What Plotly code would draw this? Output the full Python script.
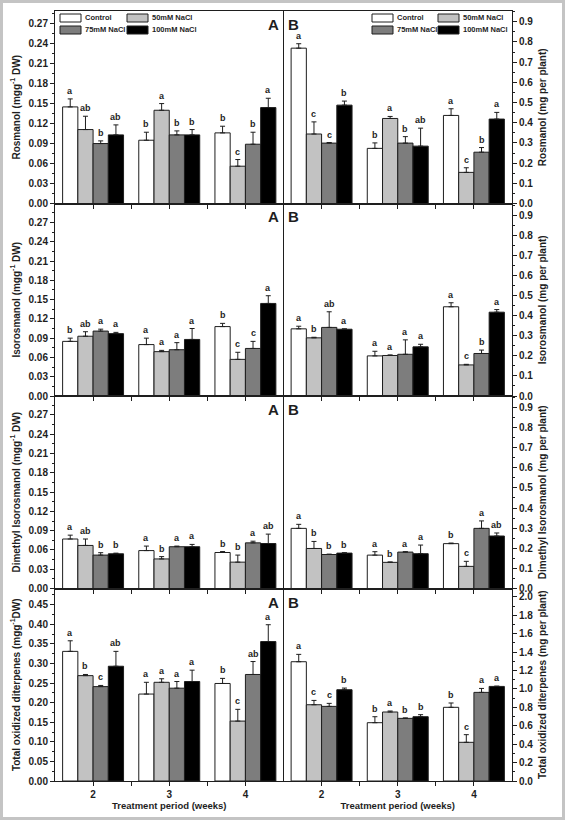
import plotly.graph_objects as go
from plotly.subplots import make_subplots

# ---------------- data ----------------
weeks = ["2", "3", "4"]
treatments = ["Control", "50mM NaCl", "75mM NaCl", "100mM NaCl"]

# each list: [Control, 50mM, 75mM, 100mM] x [week2, week3, week4]
rosmanol_dw = [[0.145, 0.095, 0.106], [0.111, 0.140, 0.056], [0.090, 0.103, 0.089], [0.103, 0.103, 0.144]]
rosmanol_dw_err = [[0.012, 0.012, 0.010], [0.020, 0.010, 0.010], [0.004, 0.006, 0.018], [0.015, 0.008, 0.014]]
rosmanol_dw_sig = [["a", "b", "b"], ["ab", "a", "c"], ["b", "b", "b"], ["ab", "b", "a"]]

rosmanol_pl = [[0.769, 0.273, 0.436], [0.344, 0.421, 0.154], [0.299, 0.299, 0.254], [0.487, 0.284, 0.418]]
rosmanol_pl_err = [[0.022, 0.027, 0.033], [0.060, 0.010, 0.023], [0.003, 0.032, 0.023], [0.020, 0.089, 0.033]]
rosmanol_pl_sig = [["a", "b", "a"], ["c", "a", "c"], ["c", "b", "b"], ["b", "ab", "a"]]

isoros_dw = [[0.085, 0.080, 0.108], [0.093, 0.069, 0.057], [0.101, 0.072, 0.074], [0.097, 0.088, 0.144]]
isoros_dw_err = [[0.005, 0.010, 0.005], [0.007, 0.002, 0.011], [0.003, 0.011, 0.011], [0.002, 0.017, 0.012]]
isoros_dw_sig = [["b", "a", "b"], ["ab", "a", "c"], ["a", "a", "c"], ["a", "a", "a"]]

isoros_pl = [[0.335, 0.200, 0.445], [0.290, 0.202, 0.155], [0.342, 0.208, 0.212], [0.333, 0.245, 0.418]]
isoros_pl_err = [[0.013, 0.023, 0.020], [0.003, 0.003, 0.003], [0.078, 0.072, 0.017], [0.002, 0.013, 0.013]]
isoros_pl_sig = [["a", "a", "a"], ["b", "a", "c"], ["ab", "a", "b"], ["a", "a", "a"]]

dimeth_dw = [[0.077, 0.059, 0.056], [0.067, 0.046, 0.041], [0.052, 0.065, 0.071], [0.054, 0.065, 0.070]]
dimeth_dw_err = [[0.006, 0.007, 0.0015], [0.010, 0.0036, 0.011], [0.0037, 0.001, 0.0026], [0.001, 0.0036, 0.0146]]
dimeth_dw_sig = [["a", "a", "b"], ["ab", "b", "b"], ["b", "a", "a"], ["b", "a", "ab"]]

dimeth_pl = [[0.299, 0.166, 0.223], [0.199, 0.130, 0.110], [0.169, 0.181, 0.299], [0.176, 0.173, 0.261]]
dimeth_pl_err = [[0.020, 0.017, 0.003], [0.035, 0.002, 0.025], [0.002, 0.002, 0.037], [0.002, 0.043, 0.015]]
dimeth_pl_sig = [["a", "a", "b"], ["b", "b", "c"], ["b", "a", "a"], ["b", "a", "ab"]]

total_dw = [[0.331, 0.222, 0.249], [0.269, 0.252, 0.153], [0.241, 0.237, 0.272], [0.293, 0.254, 0.356]]
total_dw_err = [[0.027, 0.030, 0.013], [0.003, 0.009, 0.030], [0.003, 0.017, 0.033], [0.038, 0.029, 0.043]]
total_dw_sig = [["a", "a", "b"], ["b", "a", "c"], ["c", "a", "ab"], ["ab", "a", "a"]]

total_pl = [[1.295, 0.633, 0.800], [0.828, 0.749, 0.420], [0.810, 0.680, 0.962], [0.991, 0.698, 1.027]]
total_pl_err = [[0.080, 0.065, 0.047], [0.047, 0.011, 0.083], [0.033, 0.005, 0.043], [0.018, 0.022, 0.003]]
total_pl_sig = [["a", "b", "b"], ["c", "a", "c"], ["c", "b", "a"], ["b", "b", "a"]]

left_titles = ["Rosmanol (mgg<sup>-1</sup> DW)", "Isorosmanol (mgg<sup>-1</sup> DW)",
               "Dimethyl Isorosmanol (mgg<sup>-1</sup> DW)", "Total oxidized diterpenes (mgg<sup>-1</sup>DW)"]
right_titles = ["Rosmanol (mg per plant)", "Isorosmanol (mg per plant)",
                "Dimethyl Isorosmanol (mg per plant)", "Total oxidized diterpenes (mg per plant)"]

# ---------------- styling ----------------
FILLS = ["#ffffff", "#c2c2c2", "#7d7d7d", "#000000"]
INK = "#1e1e1e"
FONT = "Liberation Sans, Arial, sans-serif"
W, H = 565, 820
ML, MR, MT, MB = 55, 53, 11, 39
PW, PH = W - ML - MR, H - MT - MB


def px2x(px):
    return (px - ML) / PW


def px2y(py):
    return (H - MB - py) / PH


fig = make_subplots(rows=4, cols=2, horizontal_spacing=0, vertical_spacing=0)

panels = [
    (1, 1, rosmanol_dw, rosmanol_dw_err, rosmanol_dw_sig, 0.289, 0.03, ".2f", left_titles[0]),
    (1, 2, rosmanol_pl, rosmanol_pl_err, rosmanol_pl_sig, 0.953, 0.1, ".1f", right_titles[0]),
    (2, 1, isoros_dw, isoros_dw_err, isoros_dw_sig, 0.2995, 0.03, ".2f", left_titles[1]),
    (2, 2, isoros_pl, isoros_pl_err, isoros_pl_sig, 0.960, 0.1, ".1f", right_titles[1]),
    (3, 1, dimeth_dw, dimeth_dw_err, dimeth_dw_sig, 0.2995, 0.03, ".2f", left_titles[2]),
    (3, 2, dimeth_pl, dimeth_pl_err, dimeth_pl_sig, 0.957, 0.1, ".1f", right_titles[2]),
    (4, 1, total_dw, total_dw_err, total_dw_sig, 0.4915, 0.05, ".2f", left_titles[3]),
    (4, 2, total_pl, total_pl_err, total_pl_sig, 2.09, 0.2, ".1f", right_titles[3]),
]

xs = list(range(len(weeks)))
offsets = [-0.3, -0.1, 0.1, 0.3]
tickfont = dict(family=FONT, size=10, color=INK, weight="bold")

for (r, c, vals, errs, sigs, ytop, dt, fmt, ytitle) in panels:
    for i, name in enumerate(treatments):
        fig.add_trace(go.Bar(
            x=xs, y=vals[i], name=name, offsetgroup=str(i), showlegend=False,
            marker=dict(color=FILLS[i], line=dict(color=INK, width=1)),
            error_y=dict(type="data", symmetric=False, array=errs[i], arrayminus=[0] * len(xs),
                         color=INK, thickness=1, width=2.5),
        ), row=r, col=c)
        for k in xs:
            fig.add_annotation(x=k + offsets[i], y=vals[i][k] + errs[i][k], text=sigs[i][k],
                               showarrow=False, yanchor="bottom", yshift=1,
                               font=dict(family=FONT, size=9, color=INK, weight="bold"),
                               row=r, col=c)
    fig.update_yaxes(range=[0, ytop], tick0=0, dtick=dt, tickformat=fmt,
                     side="left" if c == 1 else "right",
                     ticks="outside", ticklen=4, tickwidth=1, tickcolor=INK,
                     minor=dict(ticks="outside", ticklen=2, dtick=dt / 2, tickcolor=INK),
                     showline=True, linecolor=INK, linewidth=1, mirror=(c == 2),
                     showgrid=False, zeroline=False, tickfont=tickfont,
                     title=dict(text=ytitle, standoff=6,
                                font=dict(family=FONT, size=10, color=INK, weight="bold")),
                     row=r, col=c)
    fig.update_xaxes(range=[-0.5, 2.5], tickmode="array",
                     tickvals=[0, 0.5, 1, 1.5, 2],
                     ticktext=[weeks[0], "", weeks[1], "", weeks[2]] if r == 4 else [""] * 5,
                     ticks="outside", ticklen=4, tickwidth=1, tickcolor=INK,
                     showline=True, linecolor=INK, linewidth=1, mirror=True,
                     showgrid=False, zeroline=False, tickfont=tickfont,
                     row=r, col=c)

for c in (1, 2):
    fig.update_xaxes(title=dict(text="Treatment period (weeks)", standoff=2,
                                font=dict(family=FONT, size=9.5, color=INK, weight="bold")),
                     row=4, col=c)

# panel letters A / B
row_tops = [MT + k * PH / 4 for k in range(4)]
for top in row_tops:
    fig.add_annotation(xref="paper", yref="paper", x=px2x(281), y=px2y(top + 3),
                       xanchor="right", yanchor="top", text="A", showarrow=False,
                       font=dict(family=FONT, size=15, color=INK, weight="bold"))
    fig.add_annotation(xref="paper", yref="paper", x=px2x(286), y=px2y(top + 3),
                       xanchor="left", yanchor="top", text="B", showarrow=False,
                       font=dict(family=FONT, size=15, color=INK, weight="bold"))

# legends (drawn as swatches + text, two per top row panel)
shapes = []
legend_anchor = [(60, 127), (372, 438)]
for (xa, xb) in legend_anchor:
    slots = [(xa, 14), (xb, 14), (xa, 26), (xb, 26)]
    for i, name in enumerate(treatments):
        sx, sy = slots[i]
        shapes.append(dict(type="rect", xref="paper", yref="paper",
                           x0=px2x(sx), x1=px2x(sx + 21), y0=px2y(sy), y1=px2y(sy + 8),
                           fillcolor=FILLS[i], line=dict(color=INK, width=1)))
        fig.add_annotation(xref="paper", yref="paper", x=px2x(sx + 22.5), y=px2y(sy + 4),
                           xanchor="left", yanchor="middle", text=name, showarrow=False,
                           font=dict(family=FONT, size=7.5, color=INK, weight="bold"))

# outer frame
shapes.append(dict(type="rect", xref="paper", yref="paper",
                   x0=px2x(1.5), x1=px2x(W - 1.5), y0=px2y(H - 1.5), y1=px2y(1.5),
                   line=dict(color="#c4c4c4", width=3), fillcolor="rgba(0,0,0,0)"))

fig.update_layout(
    width=W, height=H, margin=dict(l=ML, r=MR, t=MT, b=MB),
    barmode="group", bargap=0.2, bargroupgap=0,
    plot_bgcolor="white", paper_bgcolor="white",
    shapes=shapes, showlegend=False,
    font=dict(family=FONT, color=INK),
)

fig.write_html("out.html", config={"displayModeBar": False},
               post_script="document.body.style.margin='0';")
